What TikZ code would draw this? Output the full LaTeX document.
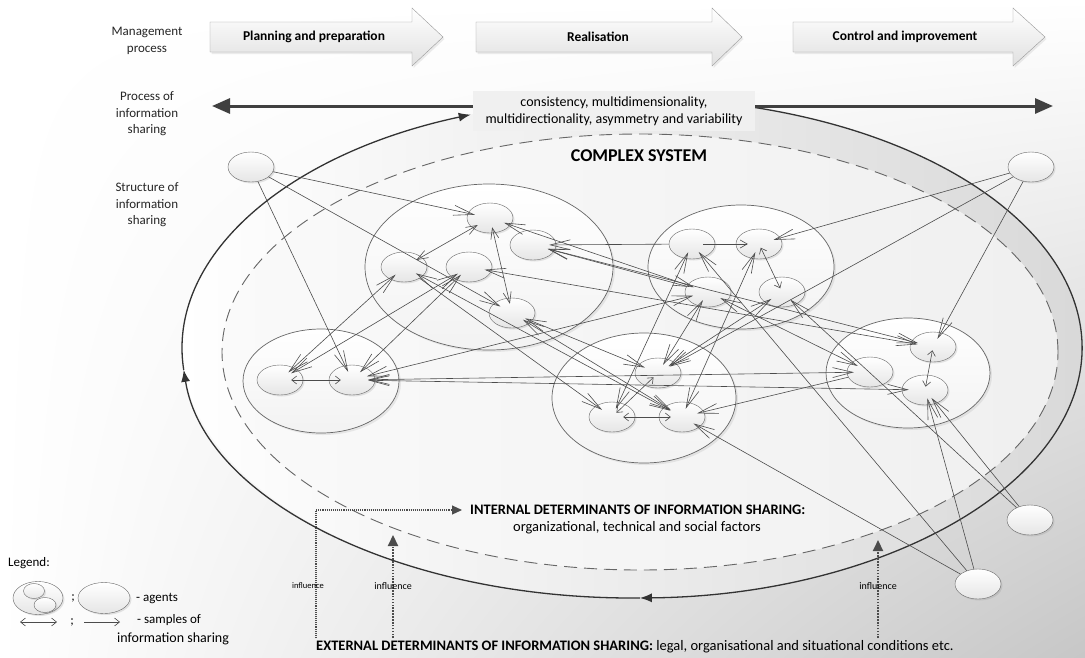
\documentclass[tikz,border=0pt]{standalone}
\usepackage{fontspec}
\setmainfont{Carlito}
\usetikzlibrary{arrows.meta,shapes.geometric,shadows,shadings,positioning}

\begin{document}
\begin{tikzpicture}[x=1pt,y=-1pt,>=Latex,
  every node/.style={font=\fontsize{13}{16.5}\selectfont, inner sep=2pt},
  phase/.style={draw=black!40, top color=white, bottom color=black!12,
    drop shadow={opacity=0.15, shadow xshift=1.5pt, shadow yshift=-2pt}},
  phasetext/.style={font=\fontsize{13.5}{16}\selectfont\bfseries},
  rowlabel/.style={align=center, text=black!85},
  determ/.style={font=\fontsize{14.5}{17}\selectfont},
  features/.style={fill=black!6, align=center, minimum width=282pt, minimum height=40pt,
    inner sep=3pt, font=\fontsize{14}{17}\selectfont},
  procline/.style={draw=black!75, line width=3pt, -{Triangle[length=18pt,width=15pt]}},
  cycleline/.style={draw=black!80, line width=1.3pt, -{Latex[length=12pt,width=9pt]}},
  agent/.style={ellipse, draw=black!60, top color=white, bottom color=black!10,
    minimum width=46pt, minimum height=30pt, inner sep=0pt,
    drop shadow={opacity=0.2, shadow xshift=1.5pt, shadow yshift=-1.5pt}},
  group/.style={draw=black!60, line width=0.7pt, top color=white, bottom color=black!5,
    drop shadow={opacity=0.15, shadow xshift=2pt, shadow yshift=-2pt}},
  link/.style={draw=black!70, line width=0.6pt,
    -{Straight Barb[length=20pt,width=10pt]}, shorten >=-7pt},
  both/.style={link, {Straight Barb[length=20pt,width=10pt]}-{Straight Barb[length=20pt,width=10pt]},
    shorten <=-7pt},
  mid/.style={draw=black!70, line width=0.6pt,
    {Straight Barb[length=11pt,width=8pt]}-{Straight Barb[length=11pt,width=8pt]},
    shorten >=-6pt, shorten <=-6pt},
  tie/.style={draw=black!70, line width=0.6pt,
    {Straight Barb[length=5pt,width=8pt]}-{Straight Barb[length=5pt,width=8pt]},
    shorten >=-12pt, shorten <=-12pt},
  tieone/.style={tie, -{Straight Barb[length=7pt,width=8pt]}},
  influthin/.style={draw=black!70, line width=1.1pt, densely dotted,
    -{Triangle[length=10pt,width=9pt]}, shorten >=6pt},
  influthick/.style={draw=black!70, line width=2.2pt, dash pattern=on 1.6pt off 1.3pt,
    -{Triangle[length=11pt,width=10pt]}},
  legone/.style={draw=black!70, line width=0.6pt, -{Straight Barb[length=5pt,width=8pt]}},
  legboth/.style={legone, {Straight Barb[length=5pt,width=8pt]}-{Straight Barb[length=5pt,width=8pt]}}
]

  % -- BACKGROUND ------------------------------------------------------
  \useasboundingbox (0,0) rectangle (1085,657);
  \shade[upper left=white, upper right=white, lower left=white, lower right=black!22]
    (0,0) rectangle (1085,657);

  % -- COMPLEX SYSTEM (outer band and dashed border) -------------------
  \shade[left color=white, right color=black!15] (632,348) ellipse [x radius=450pt, y radius=250pt];
  \shade[left color=black!2, right color=black!6] (640,352) ellipse [x radius=418pt, y radius=218pt];
  \draw[black!60, line width=0.9pt, dash pattern=on 13pt off 7pt]
    (640,352) ellipse [x radius=418pt, y radius=218pt];
  \node[font=\fontsize{18}{21}\selectfont\bfseries] (cs) at (639,156) {COMPLEX SYSTEM};

  % -- MANAGEMENT PROCESS (three phases) ------------------------------
  \draw[phase] (210,22) -- (412,22) -- (412,8) -- (443,37) -- (412,66) -- (412,52) -- (210,52) -- cycle;
  \draw[phase] (476,22) -- (712,22) -- (712,8) -- (742,37) -- (712,66) -- (712,52) -- (476,52) -- cycle;
  \draw[phase] (793,22) -- (1013,22) -- (1013,8) -- (1045,37) -- (1013,66) -- (1013,52) -- (793,52) -- cycle;
  \node[phasetext] (plan) at (314,37) {Planning and preparation};
  \node[phasetext] (real) at (598,37) {Realisation};
  \node[phasetext] (ctrl) at (905,37) {Control and improvement};

  % -- ROW LABELS ------------------------------------------------------
  \node[rowlabel] (lblmgmt) at (147,41) {Management\\process};
  \node[rowlabel] (lblproc) at (147,114) {Process of\\information\\sharing};
  \node[rowlabel] (lblstruct) at (147,205) {Structure of\\information\\sharing};

  % -- PROCESS OF INFORMATION SHARING ---------------------------------
  % outer cycle, cut by the feature box at the top
  \draw[cycleline] ({632+450*cos(-75)},{348+250*sin(-75)})
    arc[start angle=75, end angle=-89, x radius=450pt, y radius=250pt];
  \draw[cycleline] ({632+450*cos(89)},{348+250*sin(89)})
    arc[start angle=-89, end angle=-175, x radius=450pt, y radius=250pt];
  \draw[cycleline] ({632+450*cos(175)},{348+250*sin(175)})
    arc[start angle=-175, end angle=-249, x radius=450pt, y radius=250pt];

  \node[features] (feat) at (614,111)
    {consistency, multidimensionality,\\multidirectionality, asymmetry and variability};
  \coordinate (procL) at (212,106);
  \coordinate (procR) at (1053,106);
  \draw[procline] (feat.west |- procL) -- (procL);
  \draw[procline] (feat.east |- procR) -- (procR);

  % -- GROUPS OF AGENTS ------------------------------------------------
  \draw[group] (489,267) ellipse [x radius=124pt, y radius=83pt];  % north
  \draw[group] (321,381) ellipse [x radius=78pt, y radius=52pt];   % west
  \draw[group] (741,267) ellipse [x radius=93pt, y radius=62pt];   % north-east
  \draw[group] (644,398) ellipse [x radius=92pt, y radius=65pt];   % south
  \draw[group] (908,373) ellipse [x radius=82pt, y radius=55pt];   % east

  % -- AGENTS ----------------------------------------------------------
  \node[agent] (agTL) at (251,167) {};
  \node[agent] (agTR) at (1031,167) {};
  \node[agent] (agBR) at (1030,520) {};
  \node[agent] (agBB) at (978,584) {};

  \node[agent] (n1) at (490,218) {};
  \node[agent] (n2) at (533,245) {};
  \node[agent] (n3) at (404,267) {};
  \node[agent] (n4) at (469,267) {};
  \node[agent] (n5) at (512,313) {};

  \node[agent] (w1) at (280,380) {};
  \node[agent] (w2) at (352,380) {};

  \node[agent] (ne1) at (692,244) {};
  \node[agent] (ne2) at (759,244) {};
  \node[agent] (ne3) at (708,292) {};
  \node[agent] (ne4) at (782,292) {};

  \node[agent] (s1) at (658,373) {};
  \node[agent] (s2) at (612,417) {};
  \node[agent] (s3) at (682,417) {};

  \node[agent] (e1) at (933,347) {};
  \node[agent] (e2) at (870,372) {};
  \node[agent] (e3) at (925,390) {};

  % -- STRUCTURE OF INFORMATION SHARING --------------------------------
  % from the single agents
  \draw[link] (agTL) -- (n1);
  \draw[link] (agTL) -- (n5);
  \draw[link] (agTL) -- (w2);
  \draw[link] (agTR) -- (ne2);
  \draw[link] (agTR) -- (s1);
  \draw[link] (agTR) -- (e1);
  \draw[link] (agBR) -- (e3);
  \draw[link] (agBR) -- (ne4);
  \draw[link] (agBB) -- (e3);
  \draw[link] (agBB) -- (ne1);
  \draw[link] (agBB) -- (s3);
  % between groups
  \draw[link] (ne1) -- (n2);
  \draw[link] (ne3) -- (n2);
  \draw[link] (e2) -- (s3);
  \draw[link] (n3) -- (s2);
  \draw[both] (w1) -- (n3);
  \draw[both] (w1) -- (n4);
  \draw[both] (w2) -- (n4);
  \draw[both] (w2) -- (ne3);
  \draw[both] (w2) -- (e2);
  \draw[both] (w2) -- (e3);
  \draw[both] (n2) -- (e1);
  \draw[both] (n4) -- (e1);
  \draw[both] (n1) -- (ne3);
  \draw[both] (n3) -- (s3);
  \draw[both] (n5) -- (s1);
  \draw[both] (n5) -- (s3);
  \draw[both] (ne1) -- (s2);
  \draw[both] (ne3) -- (s1);
  \draw[both] (ne2) -- (s3);
  \draw[both] (ne4) -- (s1);
  \draw[both] (ne3) -- (e2);
  % inside groups
  \draw[mid] (n1) -- (n3);
  \draw[mid] (n1) -- (n5);
  \draw[tie] (w1) -- (w2);
  \draw[tieone] (ne1) -- (ne2);
  \draw[tie] (ne2) -- (ne4);
  \draw[tie] (s1) -- (s2);
  \draw[tie] (s2) -- (s3);
  \draw[tie] (e1) -- (e3);

  % -- DETERMINANTS ----------------------------------------------------
  \node[determ, anchor=west, font=\fontsize{14.5}{17}\selectfont\bfseries] (internal) at (468,510)
    {INTERNAL DETERMINANTS OF INFORMATION SHARING:};
  \node[determ] (internalsub) at (637,528) {organizational, technical and social factors};
  \node[determ, anchor=west] (external) at (314,647)
    {\textbf{EXTERNAL DETERMINANTS OF INFORMATION SHARING:} legal, organisational and situational conditions etc.};

  \coordinate (inf1) at (316,638);
  \coordinate (inf2) at (393,638);
  \coordinate (inf3) at (878,638);
  \coordinate (inf2tip) at (393,535);
  \coordinate (inf3tip) at (878,540);
  \draw[influthin] (inf1) |- (internal.west);
  \draw[influthick] (inf2) -- (inf2tip);
  \draw[influthick] (inf3) -- (inf3tip);
  \node[font=\fontsize{8.5}{10}\selectfont] (infl1) at (308,586) {influence};
  \node[font=\fontsize{10}{12}\selectfont] (infl2) at (393,586) {influence};
  \node[font=\fontsize{10}{12}\selectfont] (infl3) at (878,586) {influence};

  % -- LEGEND ----------------------------------------------------------
  \node[anchor=west] (leghead) at (6,563) {Legend:};
  \node[agent, minimum width=50pt, minimum height=33pt] (legclu) at (38,598) {};
  \node[agent, minimum width=21pt, minimum height=15pt] (legin1) at (34,591) {};
  \node[agent, minimum width=22pt, minimum height=15pt] (legin2) at (45,605) {};
  \node (legsep1) at (73,598) {;};
  \node[agent, minimum width=52pt, minimum height=31pt] (legag) at (104,598) {};
  \node[anchor=west] (legagtxt) at (134,598) {- agents};

  \coordinate (lgA) at (20,622);
  \coordinate (lgB) at (57,622);
  \coordinate (lgC) at (84,622);
  \coordinate (lgD) at (120,622);
  \draw[legboth] (lgA) -- (lgB);
  \node (legsep2) at (72,622) {;};
  \draw[legone] (lgC) -- (lgD);
  \node[anchor=west] (legsmp) at (135,620) {- samples of};
  \node[anchor=west, font=\fontsize{14}{16}\selectfont] (legsmp2) at (115,639) {information sharing};

\end{tikzpicture}
\end{document}
